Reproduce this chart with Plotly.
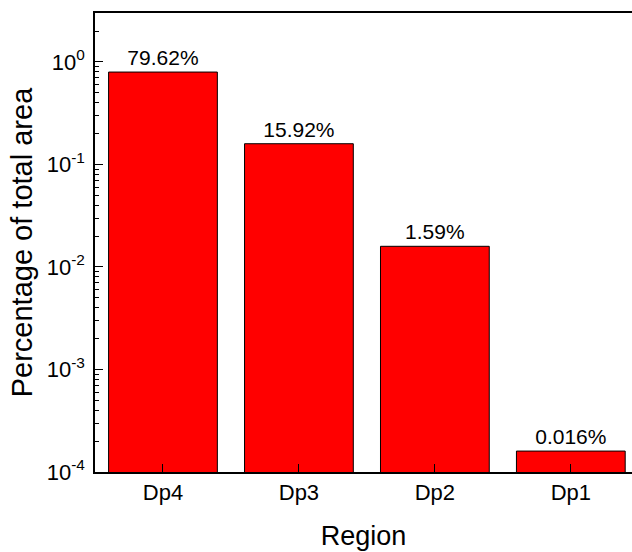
import plotly.graph_objects as go

categories = ["Dp4", "Dp3", "Dp2", "Dp1"]
values = [0.7962, 0.1592, 0.0159, 0.00016]
labels = ["79.62%", "15.92%", "1.59%", "0.016%"]
ytick_vals = [1e-4, 1e-3, 1e-2, 1e-1, 1e0]
ytick_text = ["10<sup>-4</sup>", "10<sup>-3</sup>", "10<sup>-2</sup>", "10<sup>-1</sup>", "10<sup>0</sup>"]
minor_vals = [k * d for d in [1e-4, 1e-3, 1e-2, 1e-1, 1e0] for k in range(2, 10)]

font_family = "Liberation Sans, Arial, sans-serif"

fig = go.Figure(
    go.Bar(
        x=categories,
        y=values,
        text=labels,
        textposition="outside",
        cliponaxis=False,
        textfont=dict(family=font_family, size=21, color="black"),
        marker=dict(color="#ff0000", line=dict(color="black", width=1)),
        width=0.8,
    )
)

fig.update_layout(
    width=632,
    height=552,
    margin=dict(l=95, r=0, t=13, b=80),
    plot_bgcolor="white",
    paper_bgcolor="white",
    showlegend=False,
    font=dict(family=font_family, color="black"),
)

fig.update_xaxes(
    range=[-0.5, 3.45],
    showline=True,
    linecolor="black",
    linewidth=1.5,
    mirror=True,
    ticks="inside",
    ticklen=8,
    tickcolor="black",
    tickfont=dict(size=22),
    title=dict(text="Region", font=dict(size=27), standoff=22),
    showgrid=False,
)

fig.update_yaxes(
    type="log",
    range=[-4, 0.477],
    tickvals=ytick_vals,
    ticktext=ytick_text,
    showline=True,
    linecolor="black",
    linewidth=1.5,
    mirror=False,
    ticks="inside",
    ticklen=8,
    tickcolor="black",
    tickfont=dict(size=22),
    ticklabelstandoff=4,
    minor=dict(tickvals=minor_vals, ticks="inside", ticklen=4, tickcolor="black", showgrid=False),
    title=dict(text="Percentage of total area", font=dict(size=29), standoff=6),
    showgrid=False,
    zeroline=False,
)

fig.write_html("out.html")
